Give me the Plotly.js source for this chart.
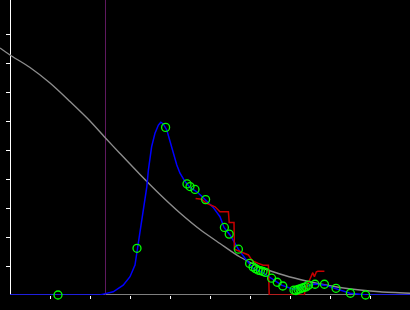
<!DOCTYPE html>
<html>
<head>
<meta charset="utf-8">
<script src="https://cdn.plot.ly/plotly-3.0.1.min.js"></script>
<style>html,body{margin:0;padding:0;background:#000;}#chart{width:410px;height:310px;}</style>
</head>
<body>
<div id="chart"></div>
<script>
// Gray reference curve
const grayX = [-0.25, 0, 0.5, 1.0, 1.5, 2.0, 2.375, 2.75, 3.25, 3.75, 4.25, 4.75, 5.25, 5.75, 6.25, 6.75, 7.25, 7.75, 8.25, 8.75, 9.25, 10];
const grayY = [8.517, 8.276, 7.845, 7.310, 6.672, 6.0, 5.431, 4.879, 4.155, 3.466, 2.828, 2.259, 1.776, 1.310, 0.966, 0.724, 0.534, 0.379, 0.259, 0.172, 0.110, 0.059];

// Blue fitted curve
const blueX = [0, 2.25, 2.33, 2.58, 2.83, 3.0, 3.125, 3.18, 3.25, 3.29, 3.375, 3.42, 3.46, 3.54, 3.625, 3.71, 3.77, 3.83, 3.92, 4.0, 4.08, 4.17, 4.25, 4.375, 4.5, 4.67, 4.79, 4.92, 5.08, 5.25, 5.35, 5.5, 5.71, 5.875, 5.96, 6.08, 6.29, 6.54, 6.79, 7.08, 7.25, 7.42, 7.625, 7.875, 8.17, 8.5, 8.92, 10];
const blueY = [0, 0, 0.03, 0.11, 0.34, 0.63, 1.03, 1.55, 2.14, 2.59, 3.28, 3.73, 4.31, 5.11, 5.58, 5.86, 5.96, 5.90, 5.69, 5.28, 4.89, 4.48, 4.20, 3.91, 3.71, 3.56, 3.41, 3.24, 3.02, 2.70, 2.33, 2.07, 1.58, 1.27, 1.11, 0.92, 0.80, 0.58, 0.34, 0.20, 0.27, 0.31, 0.38, 0.34, 0.20, 0.06, 0, 0];

// Red step series
const redX = [4.64, 4.79, 4.92, 5.125, 5.25, 5.46, 5.48, 5.6, 5.61, 5.79, 5.96, 6.04, 6.08, 6.21, 6.33, 6.46, 6.48, 7.36, 7.375, 7.5, 7.57, 7.61, 7.66, 7.7, 7.86];
const redY = [3.33, 3.30, 3.16, 3.04, 2.87, 2.87, 2.50, 2.50, 1.58, 1.49, 1.38, 1.22, 1.17, 1.09, 1.03, 1.03, 0, 0, 0.17, 0.55, 0.77, 0.63, 0.80, 0.82, 0.82];

// Observed points
const ptX = [1.2, 3.175, 3.89, 4.425, 4.5, 4.625, 4.89, 5.36, 5.48, 5.71, 5.99, 6.075, 6.14, 6.2, 6.26, 6.325, 6.39, 6.54, 6.68, 6.82, 7.1, 7.15, 7.2, 7.25, 7.3, 7.35, 7.4, 7.46, 7.625, 7.86, 8.15, 8.51, 8.89];
const ptY = [0, 1.61, 5.78, 3.83, 3.74, 3.64, 3.29, 2.33, 2.10, 1.58, 1.09, 0.97, 0.91, 0.86, 0.84, 0.81, 0.78, 0.58, 0.44, 0.31, 0.17, 0.155, 0.19, 0.21, 0.24, 0.26, 0.28, 0.34, 0.37, 0.37, 0.23, 0.06, 0];

// Vertical marker
const vlineX = [2.3875];
const yTop = 295 / 29;

const tickX = [1, 2, 3, 4, 5, 6, 7, 8, 9];
const tickY = [1, 2, 3, 4, 5, 6, 7, 8, 9];

const traces = [
  {x: [vlineX[0], vlineX[0]], y: [0, yTop], mode: 'lines', line: {color: 'rgb(95,25,95)', width: 1}, hoverinfo: 'skip'},
  {x: grayX, y: grayY, mode: 'lines', line: {color: '#8c8c8c', width: 1.4, shape: 'spline', smoothing: 0.8}},
  {x: blueX, y: blueY, mode: 'lines', line: {color: '#0000ff', width: 1.5}},
  {x: redX, y: redY, mode: 'lines', line: {color: '#c80000', width: 1.5}},
  {x: ptX, y: ptY, mode: 'markers', cliponaxis: false, marker: {symbol: 'circle-open', color: '#00ff00', size: 8, line: {width: 1.3, color: '#00ff00'}}}
];

const layout = {
  width: 410, height: 310,
  margin: {l: 0, r: 0, t: 0, b: 15, pad: 0},
  paper_bgcolor: '#000', plot_bgcolor: '#000',
  showlegend: false,
  xaxis: {
    range: [-0.25, 10], domain: [0, 1],
    showgrid: false, showline: false, showticklabels: false,
    zeroline: true, zerolinecolor: '#ffffff', zerolinewidth: 1,
    ticks: 'outside', ticklen: 3, tickwidth: 1, tickcolor: '#ffffff',
    tickmode: 'array', tickvals: tickX
  },
  yaxis: {
    range: [0, yTop],
    anchor: 'free', position: 10 / 410,
    showgrid: false, showline: false, showticklabels: false, zeroline: false,
    ticks: 'outside', ticklen: 4, tickwidth: 1, tickcolor: '#ffffff',
    tickmode: 'array', tickvals: tickY
  },
  shapes: [
    {type: 'line', xref: 'x', yref: 'y', x0: 0, x1: 10, y0: 0, y1: 0, line: {color: '#ffffff', width: 1}, layer: 'below'}
  ]
};

Plotly.newPlot('chart', traces, layout, {displayModeBar: false, staticPlot: true});
</script>
</body>
</html>
